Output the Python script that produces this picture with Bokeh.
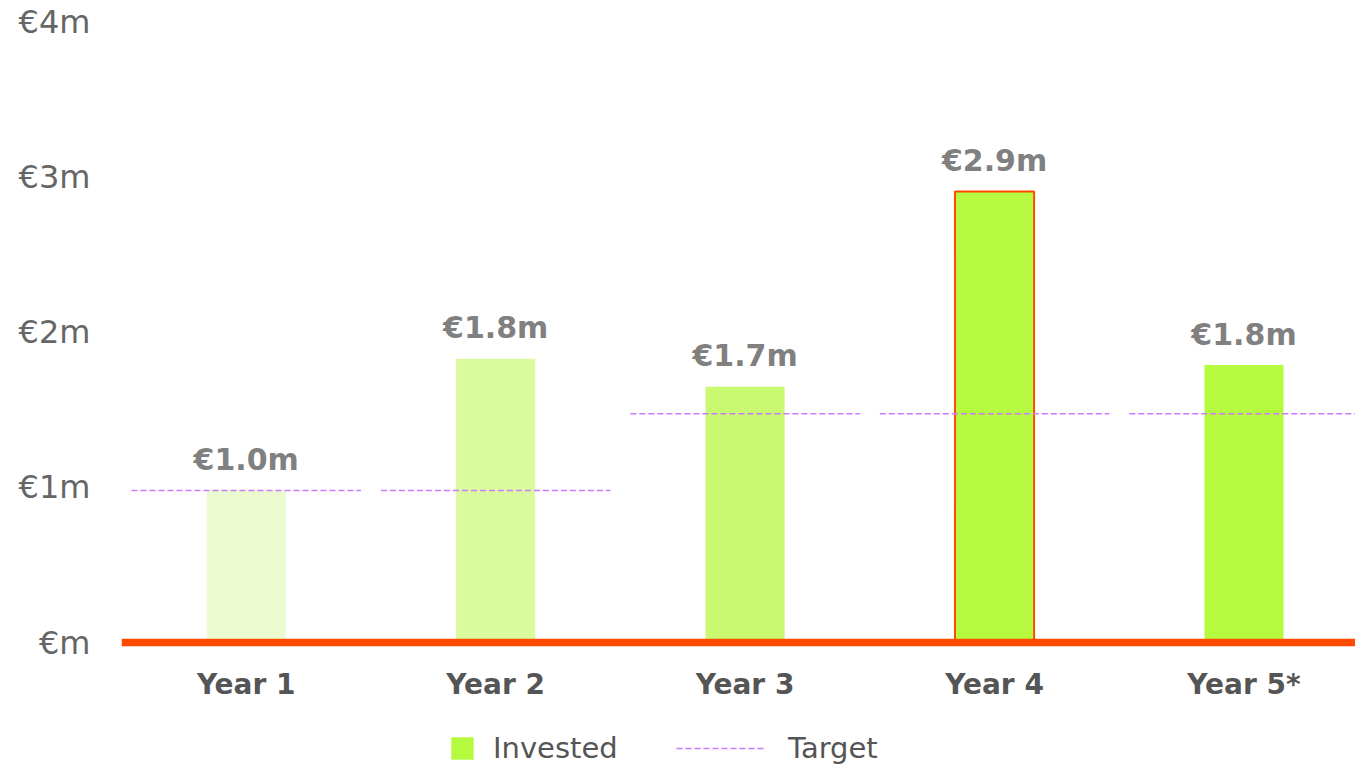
from bokeh.plotting import figure
from bokeh.models import (ColumnDataSource, Range1d, FixedTicker, Span, Legend, LegendItem)
from bokeh.layouts import column
from bokeh.core.properties import value
from bokeh.embed import file_html
from bokeh.resources import INLINE

# ---- data ----
categories = ["Year 1", "Year 2", "Year 3", "Year 4", "Year 5*"]
invested = [0.98, 1.83, 1.65, 2.91, 1.79]
targets = [0.98, 0.98, 1.475, 1.475, 1.475]
value_labels = ["€1.0m", "€1.8m", "€1.7m", "€2.9m", "€1.8m"]
bar_colors = ["#ebfbcf", "#dafb9d", "#c8f970", "#b5fa3e", "#b5fa3e"]
outline_alpha = [0, 0, 0, 1, 0]
y_ticks = [0, 1, 2, 3, 4]
y_tick_labels = ["€m", "€1m", "€2m", "€3m", "€4m"]
legend_labels = ["Invested", "Target"]

ORANGE = "#ff4b00"
PURPLE = "#c97bff"
FONT = "DejaVu Sans"

xs = list(range(len(categories)))
src = ColumnDataSource(dict(
    x=xs, top=invested, color=bar_colors, la=outline_alpha,
    label=value_labels, target=targets,
    x0=[x - 0.46 for x in xs], x1=[x + 0.46 for x in xs],
))

p = figure(width=1355, height=715, output_backend="svg", toolbar_location=None,
           x_range=Range1d(-0.5, 4.447), y_range=Range1d(-0.0516, 4.077),
           min_border_left=121, min_border_right=0, min_border_top=10,
           min_border_bottom=65)
p.outline_line_color = None
p.grid.visible = False

bars = p.vbar(x="x", top="top", bottom=0, width=0.317, source=src,
              fill_color="color", line_color=ORANGE, line_alpha="la", line_width=2)

tgt = p.segment(x0="x0", x1="x1", y0="target", y1="target", source=src,
                line_color=PURPLE, line_width=1.5, line_dash="6 3")

p.add_layout(Span(location=0, dimension="width", line_color=ORANGE, line_width=7.5))

p.text(x="x", y="top", text="label", source=src, text_align="center",
       text_baseline="alphabetic", y_offset=-31, text_font=value(FONT),
       text_font_style="bold", text_font_size="30px", text_color="#808080")

# axes
p.xaxis.ticker = FixedTicker(ticks=xs)
p.xaxis.major_label_overrides = {x: c for x, c in zip(xs, categories)}
p.xaxis.axis_line_color = None
p.xaxis.major_tick_line_color = None
p.xaxis.minor_tick_line_color = None
p.xaxis.major_tick_out = 0
p.xaxis.major_label_standoff = 17
p.xaxis.major_label_text_font = FONT
p.xaxis.major_label_text_font_style = "bold"
p.xaxis.major_label_text_font_size = "28px"
p.xaxis.major_label_text_color = "#555555"

p.yaxis.ticker = FixedTicker(ticks=y_ticks)
p.yaxis.major_label_overrides = {t: l for t, l in zip(y_ticks, y_tick_labels)}
p.yaxis.axis_line_color = None
p.yaxis.major_tick_line_color = None
p.yaxis.minor_tick_line_color = None
p.yaxis.major_tick_out = 0
p.yaxis.major_label_standoff = 31
p.yaxis.major_label_text_font = FONT
p.yaxis.major_label_text_font_size = "32px"
p.yaxis.major_label_text_color = "#666666"

# ---- legend strip ----
lp = figure(width=1355, height=50, output_backend="svg", toolbar_location=None,
            x_range=Range1d(0, 1), y_range=Range1d(0, 1),
            x_axis_location=None, y_axis_location=None,
            min_border=0)
lp.outline_line_color = None
lp.grid.visible = False
lsrc = ColumnDataSource(dict(x=[5], y=[5]))
inv_r = lp.vbar(x="x", top="y", width=0.3, source=lsrc,
                fill_color=bar_colors[-1], line_color=None)
tgt_r = lp.segment(x0="x", x1="x", y0="y", y1="y", source=lsrc,
                   line_color=PURPLE, line_width=1.5, line_dash="6 3")

def mk_legend(items, loc, gw, gh, standoff):
    return Legend(items=items, location=loc, orientation="horizontal",
                  glyph_width=gw, glyph_height=gh, label_standoff=standoff,
                  padding=0, margin=0, spacing=0, border_line_color=None,
                  background_fill_alpha=0, label_text_font=FONT,
                  label_text_font_size="29px", label_text_color="#555555",
                  label_height=gh)

leg1 = mk_legend([LegendItem(label=legend_labels[0], renderers=[inv_r])],
                 (327, 0), 28, 28, 17)
leg2 = mk_legend([LegendItem(label=legend_labels[1], renderers=[tgt_r])],
                 (555, 0), 89, 22, 23)
lp.add_layout(leg1, "center")
lp.add_layout(leg2, "center")

layout = column(p, lp, spacing=0)
open("out.html", "w").write(file_html(layout, INLINE))
